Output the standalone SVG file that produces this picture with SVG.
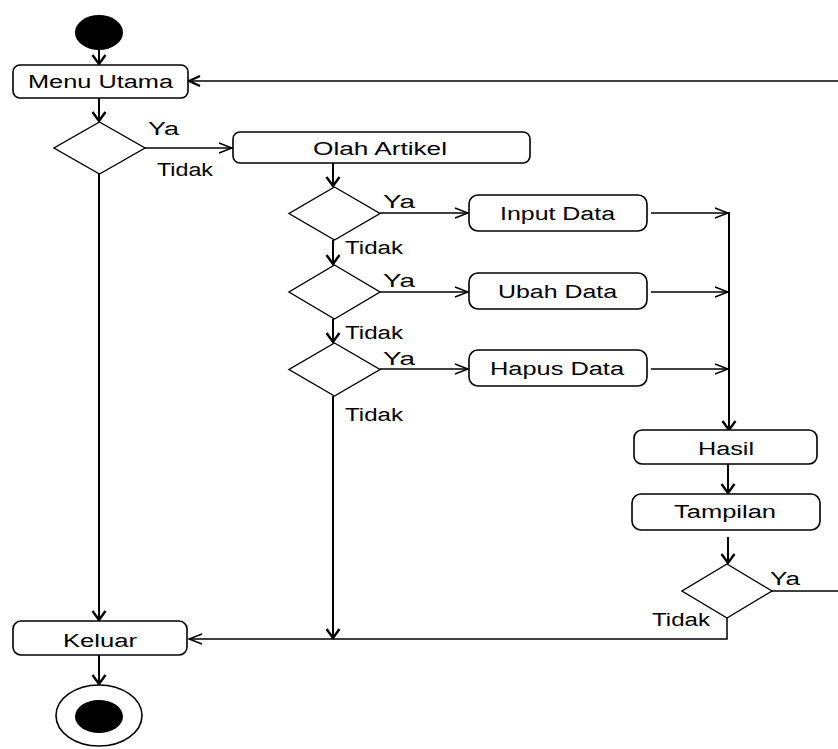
<svg xmlns="http://www.w3.org/2000/svg" width="838" height="749" viewBox="0 0 838 749">
<style>
.box{fill:#fff;stroke:#000;stroke-width:1.6}
.dia{fill:#fff;stroke:#000;stroke-width:1.4}
.t{font-family:"Liberation Sans",Arial,sans-serif;font-size:18px;fill:#000}
.c{fill:none;stroke:#000;stroke-width:1.5}
.cb{fill:none;stroke:#000;stroke-width:2}
</style>
<defs>
<marker id="h" markerUnits="userSpaceOnUse" markerWidth="16" markerHeight="14" refX="13" refY="6" orient="auto" overflow="visible">
<path d="M0,1 L13,6 L0,11" fill="none" stroke="#000" stroke-width="1.4"/>
</marker>
<marker id="hb" markerUnits="userSpaceOnUse" markerWidth="16" markerHeight="14" refX="11" refY="6" orient="auto" overflow="visible">
<path d="M0,1 L11,6 L0,11" fill="none" stroke="#000" stroke-width="2.2"/>
</marker>
<marker id="v" markerUnits="userSpaceOnUse" markerWidth="12" markerHeight="16" refX="9" refY="7" orient="auto" overflow="visible">
<path d="M0,0.5 L9,7 L0,13.5" fill="none" stroke="#000" stroke-width="2.4"/>
</marker>
</defs>

<g id="connectors">
<line class="cb" x1="99" y1="50" x2="99" y2="64" marker-end="url(#v)"/>
<line class="cb" x1="99" y1="98" x2="99" y2="121" marker-end="url(#v)"/>
<line class="c" x1="145" y1="148" x2="232" y2="148" marker-end="url(#h)"/>
<line class="cb" x1="99" y1="174" x2="99" y2="620" marker-end="url(#v)"/>
<line class="cb" x1="333" y1="163" x2="333" y2="186" marker-end="url(#v)"/>
<line class="c" x1="380" y1="213" x2="468" y2="213" marker-end="url(#h)"/>
<line class="cb" x1="333" y1="240" x2="333" y2="264" marker-end="url(#v)"/>
<line class="c" x1="380" y1="292" x2="468" y2="292" marker-end="url(#h)"/>
<line class="cb" x1="333" y1="319" x2="333" y2="342" marker-end="url(#v)"/>
<line class="c" x1="380" y1="369" x2="468" y2="369" marker-end="url(#h)"/>
<line class="cb" x1="333" y1="396" x2="333" y2="638" marker-end="url(#v)"/>
<line class="c" x1="651" y1="213" x2="728" y2="213" marker-end="url(#h)"/>
<line class="c" x1="651" y1="292" x2="728" y2="292" marker-end="url(#h)"/>
<line class="c" x1="651" y1="369" x2="728" y2="369" marker-end="url(#h)"/>
<line class="cb" x1="729" y1="212" x2="729" y2="430" marker-end="url(#v)"/>
<line class="cb" x1="728" y1="464" x2="728" y2="493" marker-end="url(#v)"/>
<line class="cb" x1="728" y1="537" x2="728" y2="563" marker-end="url(#v)"/>
<path class="c" d="M772,591 L842,591 L842,81 L189,81" marker-end="url(#hb)"/>
<path class="c" d="M727,618 L727,639 L189,639" marker-end="url(#h)"/>
<line class="cb" x1="99" y1="655" x2="99" y2="684" marker-end="url(#v)"/>
</g>

<g id="start"><ellipse cx="99" cy="32.5" rx="24" ry="17.5" fill="#000"/></g>

<g id="menu-utama">
<rect class="box" x="13" y="65" width="175" height="33" rx="7"/>
<text class="t" x="28" y="88" textLength="145" lengthAdjust="spacingAndGlyphs">Menu Utama</text>
</g>

<g id="decision-1">
<polygon class="dia" points="99.5,122 145,148 99.5,174 54,148"/>
<text class="t" x="148" y="135" textLength="31" lengthAdjust="spacingAndGlyphs">Ya</text>
<text class="t" x="157" y="176" textLength="56" lengthAdjust="spacingAndGlyphs">Tidak</text>
</g>

<g id="olah-artikel">
<rect class="box" x="233" y="132" width="297" height="31" rx="7"/>
<text class="t" x="313" y="155" textLength="134" lengthAdjust="spacingAndGlyphs">Olah Artikel</text>
</g>

<g id="decision-2">
<polygon class="dia" points="334.5,187 380,213.5 334.5,240 289,213.5"/>
<text class="t" x="383" y="208" textLength="32" lengthAdjust="spacingAndGlyphs">Ya</text>
<text class="t" x="345" y="254" textLength="58" lengthAdjust="spacingAndGlyphs">Tidak</text>
</g>

<g id="input-data">
<rect class="box" x="469" y="195" width="178" height="36" rx="9"/>
<text class="t" x="500" y="220" textLength="115" lengthAdjust="spacingAndGlyphs">Input Data</text>
</g>

<g id="decision-3">
<polygon class="dia" points="334.5,265 380,292 334.5,319 289,292"/>
<text class="t" x="383" y="287" textLength="32" lengthAdjust="spacingAndGlyphs">Ya</text>
<text class="t" x="345" y="339" textLength="58" lengthAdjust="spacingAndGlyphs">Tidak</text>
</g>

<g id="ubah-data">
<rect class="box" x="469" y="273" width="178" height="36" rx="9"/>
<text class="t" x="498" y="298" textLength="119" lengthAdjust="spacingAndGlyphs">Ubah Data</text>
</g>

<g id="decision-4">
<polygon class="dia" points="334.5,343 380,369.5 334.5,396 289,369.5"/>
<text class="t" x="383" y="365" textLength="32" lengthAdjust="spacingAndGlyphs">Ya</text>
<text class="t" x="345" y="421" textLength="58" lengthAdjust="spacingAndGlyphs">Tidak</text>
</g>

<g id="hapus-data">
<rect class="box" x="469" y="350" width="178" height="36" rx="9"/>
<text class="t" x="490" y="375" textLength="134" lengthAdjust="spacingAndGlyphs">Hapus Data</text>
</g>

<g id="hasil">
<rect class="box" x="634" y="430" width="183" height="34" rx="8"/>
<text class="t" x="698" y="455" textLength="56" lengthAdjust="spacingAndGlyphs">Hasil</text>
</g>

<g id="tampilan">
<rect class="box" x="632" y="494" width="188" height="36" rx="9"/>
<text class="t" x="674" y="518" textLength="102" lengthAdjust="spacingAndGlyphs">Tampilan</text>
</g>

<g id="decision-5">
<polygon class="dia" points="727,564 772,591 727,618 682,591"/>
<text class="t" x="770" y="585" textLength="30" lengthAdjust="spacingAndGlyphs">Ya</text>
<text class="t" x="652" y="626" textLength="58" lengthAdjust="spacingAndGlyphs">Tidak</text>
</g>

<g id="keluar">
<rect class="box" x="13" y="621" width="174" height="34" rx="8"/>
<text class="t" x="63" y="647" textLength="74" lengthAdjust="spacingAndGlyphs">Keluar</text>
</g>

<g id="end">
<ellipse cx="99" cy="715.5" rx="43" ry="30.5" fill="#fff" stroke="#000" stroke-width="1.6"/>
<ellipse cx="99" cy="716.5" rx="24" ry="16.5" fill="#000"/>
</g>
</svg>
